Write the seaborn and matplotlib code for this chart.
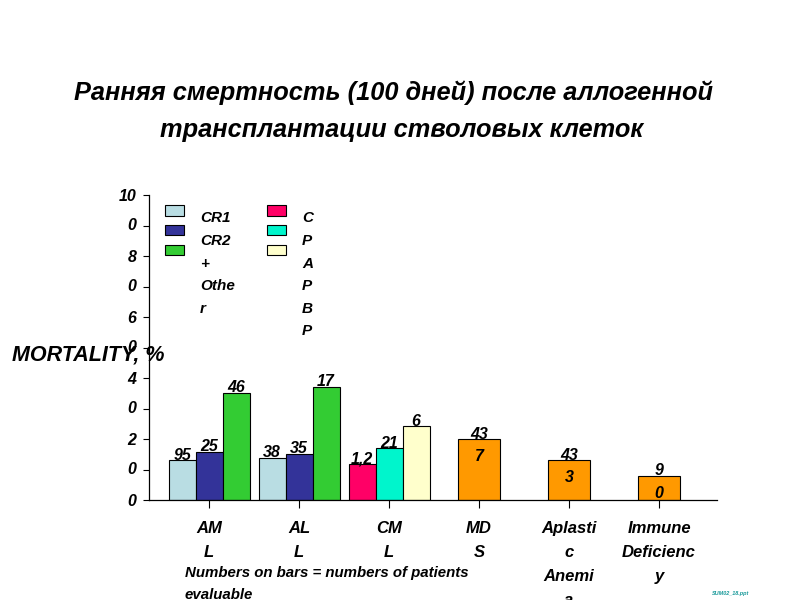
import pandas as pd
import matplotlib
matplotlib.use('Agg')
import matplotlib.pyplot as plt
import matplotlib.transforms as mtransforms
from matplotlib.patches import Patch
import seaborn as sns

# categories
diseases = ['AML', 'ALL', 'CML', 'MDS', 'AA', 'ID']
disease_labels = ['AM\nL', 'AL\nL', 'CM\nL', 'MD\nS', 'Aplasti\nc\nAnemi\na', 'Immune\nDeficienc\ny']

# AML / ALL by remission status
phases_acute = ['CR1', 'CR2', 'Other']
aml_vals = [13, 15.9, 35.2]
all_vals = [13.7, 15, 37.1]
aml_n = ['95', '25', '46']
all_n = ['38', '35', '17']

# CML by phase
phases_cml = ['CP', 'AP', 'BP']
cml_vals = [11.7, 16.9, 24.1]
cml_n = ['1,2', '21', '6']

# single-bar groups
single = ['MDS', 'AA', 'ID']
single_vals = [19.9, 13, 7.8]
single_n = ['43\n7', '43\n3', '9\n0']

yticks = [0, 10, 20, 30, 40, 50, 60, 70, 80, 90, 100]
ytick_labels = ['0', '', '2\n0', '', '4\n0', '', '6\n0', '', '8\n0', '', '10\n0']

legend_col1 = 'CR1\nCR2\n+\nOthe\nr'
legend_col2 = 'C\nP\nA\nP\nB\nP'

colors = {'CR1': '#B9DDE3', 'CR2': '#333399', 'Other': '#33CC33',
          'CP': '#FF0066', 'AP': '#00F5CC', 'BP': '#FFFFCC', 'single': '#FF9900'}

sns.set_style('ticks')
plt.rcParams['font.family'] = ['Liberation Sans', 'DejaVu Sans']
plt.rcParams['font.weight'] = 'bold'
plt.rcParams['font.style'] = 'italic'
for k in ['text.color', 'axes.labelcolor', 'xtick.color', 'ytick.color']:
    plt.rcParams[k] = 'black'

acute_df = pd.DataFrame({'disease': ['AML'] * 3 + ['ALL'] * 3,
                         'phase': phases_acute * 2,
                         'value': aml_vals + all_vals})
cml_df = pd.DataFrame({'disease': ['CML'] * 3, 'phase': phases_cml, 'value': cml_vals})
single_df = pd.DataFrame({'disease': single, 'value': single_vals})

fig = plt.figure(figsize=(8, 6), dpi=100)
ax = fig.add_axes([149 / 800, 100 / 600, 568 / 800, 305 / 600])

bar_kw = dict(order=diseases, edgecolor='black', linewidth=0.8, errorbar=None,
              saturation=1, ax=ax)
sns.barplot(data=acute_df, x='disease', y='value', hue='phase', hue_order=phases_acute,
            palette=colors, width=0.9, gap=0, legend=False, **bar_kw)
sns.barplot(data=cml_df, x='disease', y='value', hue='phase', hue_order=phases_cml,
            palette=colors, width=0.9, gap=0, legend=False, **bar_kw)
sns.barplot(data=single_df, x='disease', y='value', color=colors['single'],
            width=0.47, **bar_kw)

# patient counts on bars (first line just above the bar top)
lab_kw = dict(textcoords='offset points', xytext=(0, 9.2), ha='center', va='top',
              fontsize=11.5, linespacing=1.6)
for gi, (vals, ns) in enumerate([(aml_vals, aml_n), (all_vals, all_n), (cml_vals, cml_n)]):
    for j, (v, n) in enumerate(zip(vals, ns)):
        ax.annotate(n, (gi + (j - 1) * 0.3, v), **lab_kw)
for k, (v, n) in enumerate(zip(single_vals, single_n)):
    ax.annotate(n, (3 + k, v), **lab_kw)

ax.set_xlim(-0.667, 5.644)
ax.set_ylim(0, 100)
ax.set_xlabel('')
ax.set_ylabel('')
ax.set_xticks(range(len(diseases)))
ax.set_xticklabels(disease_labels, fontsize=12, linespacing=1.76, va='top')
ax.set_yticks(yticks)
ax.set_yticklabels(ytick_labels, fontsize=11.5, linespacing=2.13, va='top')
ax.tick_params(axis='x', length=6, pad=9, width=0.8)
ax.tick_params(axis='y', length=4, pad=5, width=0.8)
shift = mtransforms.ScaledTranslation(0, 0.058, fig.dpi_scale_trans)
for lab in ax.get_yticklabels():
    lab.set_transform(lab.get_transform() + shift)
sns.despine(ax=ax)
for s in ['left', 'bottom']:
    ax.spines[s].set_linewidth(0.9)
    ax.spines[s].set_color('black')

# legend: colour boxes from ax.legend, wrapped names beside them
handles = [Patch(facecolor=colors[p], edgecolor='black', linewidth=0.8)
           for p in phases_acute + phases_cml]
leg = ax.legend(handles, [''] * 6, ncol=2, frameon=False, fontsize=8, loc='upper left',
                bbox_to_anchor=(165 / 800, 1 - 205 / 600), bbox_transform=fig.transFigure,
                borderaxespad=0, borderpad=0, handlelength=1.7, handleheight=1.08,
                handletextpad=0, labelspacing=0.8, columnspacing=7.5)
fig.text(200 / 800, 1 - 211.5 / 600, legend_col1, ha='left', va='top',
         fontsize=11, linespacing=1.78)
fig.text(302 / 800, 1 - 211.5 / 600, legend_col2, ha='left', va='top',
         fontsize=11, linespacing=1.78)

fig.text(393 / 800, 1 - 93 / 600, 'Ранняя смертность (100 дней) после аллогенной',
         ha='center', va='center', fontsize=18.3)
fig.text(402 / 800, 1 - 130 / 600, 'трансплантации стволовых клеток',
         ha='center', va='center', fontsize=18.3)
fig.text(12 / 800, 1 - 355 / 600, 'MORTALITY, %', ha='left', va='center', fontsize=15.5)
fig.text(185 / 800, 1 - 565.5 / 600, 'Numbers on bars = numbers of patients\nevaluable',
         ha='left', va='top', fontsize=10.8, linespacing=1.79)
fig.text(712 / 800, 1 - 594 / 600, 'SUM02_18.ppt', ha='left', va='center',
         fontsize=4, color='#1A9A9A')

fig.savefig('out.png', dpi=100)
